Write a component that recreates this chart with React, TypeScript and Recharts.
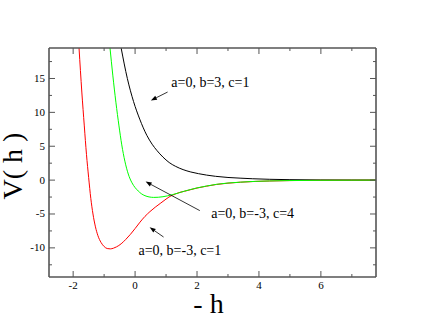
import React from 'react';
import { ComposedChart, Line, XAxis, YAxis, ReferenceLine, ReferenceDot, Label } from 'recharts';

// ---- data ----
const blackH = [-0.45, -0.25, -0.05, 0.15, 0.38, 0.55, 0.7, 0.9, 1.1, 1.3, 1.55, 1.8, 2.05, 2.31, 2.6, 3.0, 3.39, 3.8, 4.35, 5.0, 6.0, 7.0, 7.78];
const blackV = [19.5, 15.0, 11.6, 9.0, 6.6, 5.3, 4.4, 3.4, 2.6, 2.05, 1.55, 1.2, 0.95, 0.74, 0.56, 0.39, 0.29, 0.2, 0.12, 0.067, 0.027, 0.011, 0.005];

const greenH = [-0.81, -0.72, -0.62, -0.52, -0.43, -0.33, -0.22, -0.1, 0, 0.1, 0.2, 0.32, 0.45, 0.6, 0.75, 0.9, 1.05, 1.2, 1.4, 1.6, 1.8, 2.0, 2.3, 2.63, 3.0, 3.4, 3.9, 4.35, 5.0, 6.0, 7.0, 7.78];
const greenV = [19.5, 15.5, 11.5, 8.0, 5.2, 2.8, 0.9, -0.4, -1.1, -1.6, -2.0, -2.3, -2.48, -2.55, -2.53, -2.45, -2.32, -2.15, -1.9, -1.62, -1.38, -1.15, -0.88, -0.62, -0.43, -0.3, -0.18, -0.12, -0.065, -0.025, -0.01, 0];

const redH = [-1.81, -1.72, -1.64, -1.57, -1.5, -1.43, -1.36, -1.28, -1.2, -1.1, -1.0, -0.9, -0.8, -0.7, -0.6, -0.45, -0.3, -0.15, 0, 0.16, 0.32, 0.48, 0.65, 0.81, 1.0, 1.13, 1.3, 1.45, 1.6, 1.8, 2.0, 2.3, 2.63, 3.0, 3.4, 3.9, 4.35, 5.0, 6.0, 7.0, 7.78];
const redV = [19.5, 13.0, 8.0, 3.8, 0.4, -2.7, -5.0, -6.9, -8.2, -9.2, -9.8, -10.1, -10.15, -10.05, -9.85, -9.4, -8.75, -8.0, -7.15, -6.2, -5.35, -4.65, -4.0, -3.45, -2.8, -2.4, -2.05, -1.8, -1.64, -1.4, -1.17, -0.9, -0.64, -0.45, -0.31, -0.19, -0.13, -0.07, -0.027, -0.01, 0];

const xTicks = [-2, -1, 0, 1, 2, 3, 4, 5, 6, 7];
const xTickLabels = [-2, 0, 2, 4, 6];
const yTicks = [-12.5, -10, -7.5, -5, -2.5, 0, 2.5, 5, 7.5, 10, 12.5, 15, 17.5];
const yTickLabels = [-10, -5, 0, 5, 10, 15];

const annotations = [
  { text: 'a=0, b=3, c=1', lx: 1.17, ly: 13.78, from: { x: 1.05, y: 13.0 }, to: { x: 0.51, y: 11.76 } },
  { text: 'a=0, b=-3, c=4', lx: 2.46, ly: -5.53, from: { x: 2.09, y: -4.5 }, to: { x: 0.34, y: -0.22 } },
  { text: 'a=0, b=-3, c=1', lx: 0.11, ly: -10.98, from: { x: 0.92, y: -8.4 }, to: { x: 0.47, y: -6.97 } },
];

const toPoints = (h: number[], v: number[]) => h.map((x, i) => ({ h: x, v: v[i] }));
const blackData = toPoints(blackH, blackV);
const greenData = toPoints(greenH, greenV);
const redData = toPoints(redH, redV);

const FRAME = '#555';
const FONT = '"Liberation Serif", "Times New Roman", serif';

function BottomTick(props: any) {
  const { x, y, payload } = props;
  const major = xTickLabels.includes(payload.value);
  return (
    <g>
      <line x1={x} x2={x} y1={y} y2={y - (major ? 6 : 3)} stroke={FRAME} strokeWidth={1} />
      {major && (
        <text x={x} y={y + 12} textAnchor="middle" fontSize={11} fontFamily={FONT} fill="#000">
          {String(payload.value)}
        </text>
      )}
    </g>
  );
}
function TopTick(props: any) {
  const { x, y, payload } = props;
  const major = xTickLabels.includes(payload.value);
  return <line x1={x} x2={x} y1={y} y2={y + (major ? 6 : 3)} stroke={FRAME} strokeWidth={1} />;
}
function LeftTick(props: any) {
  const { x, y, payload } = props;
  const major = yTickLabels.includes(payload.value);
  return (
    <g>
      <line x1={x} x2={x + (major ? 6 : 3)} y1={y} y2={y} stroke={FRAME} strokeWidth={1} />
      {major && (
        <text x={x - 4} y={y + 3.5} textAnchor="end" fontSize={11} fontFamily={FONT} fill="#000">
          {String(payload.value)}
        </text>
      )}
    </g>
  );
}
function RightTick(props: any) {
  const { x, y, payload } = props;
  const major = yTickLabels.includes(payload.value);
  return <line x1={x} x2={x - (major ? 6 : 3)} y1={y} y2={y} stroke={FRAME} strokeWidth={1} />;
}

function Arrow(props: any) {
  const { x1, y1, x2, y2 } = props;
  const dx = x2 - x1;
  const dy = y2 - y1;
  const len = Math.hypot(dx, dy) || 1;
  const ux = dx / len;
  const uy = dy / len;
  const L = 6;
  const W = 2.2;
  const bx = x2 - ux * L;
  const by = y2 - uy * L;
  const pts = `${x2},${y2} ${bx - uy * W},${by + ux * W} ${bx + uy * W},${by - ux * W}`;
  return (
    <g>
      <line x1={x1} y1={y1} x2={bx} y2={by} stroke="#000" strokeWidth={0.8} />
      <polygon points={pts} fill="#000" />
    </g>
  );
}

const makeTextShape = (t: string) => (p: any) => (
  <text x={p.cx} y={p.cy} fontSize={14} fontFamily={FONT} fill="#000">
    {t}
  </text>
);

export default function App() {
  return (
    <div style={{ position: 'absolute', left: 0, top: 0 }}>
      <ComposedChart width={423} height={327} margin={{ top: 18, right: 17, bottom: 20, left: 0 }}>
        <XAxis
          xAxisId="b"
          type="number"
          dataKey="h"
          domain={[-2.78, 7.78]}
          allowDataOverflow
          ticks={xTicks}
          interval={0}
          tick={<BottomTick />}
          tickLine={false}
          tickSize={0}
          tickMargin={0}
          height={30}
          axisLine={{ stroke: FRAME, strokeWidth: 1.6 }}
        >
          <Label
            content={(p: any) => {
              const vb = p.viewBox || { x: 49, y: 277, width: 327 };
              return (
                <text x={vb.x + vb.width / 2 - 4} y={vb.y + 36} textAnchor="middle" fontSize={28} fontFamily={FONT} fill="#000">
                  - h
                </text>
              );
            }}
          />
        </XAxis>
        <XAxis
          xAxisId="t"
          orientation="top"
          type="number"
          dataKey="h"
          domain={[-2.78, 7.78]}
          allowDataOverflow
          ticks={xTicks}
          interval={0}
          tick={<TopTick />}
          tickLine={false}
          tickSize={0}
          tickMargin={0}
          height={30}
          axisLine={{ stroke: FRAME, strokeWidth: 1.6 }}
        />
        <YAxis
          yAxisId="l"
          type="number"
          domain={[-14.3, 19.5]}
          allowDataOverflow
          ticks={yTicks}
          interval={0}
          tick={<LeftTick />}
          tickLine={false}
          tickSize={0}
          tickMargin={0}
          width={49}
          axisLine={{ stroke: FRAME, strokeWidth: 1.6 }}
        >
          <Label
            content={(p: any) => {
              const vb = p.viewBox || { x: 0, y: 48, width: 49, height: 229 };
              const cx = vb.x + 22;
              const cy = vb.y + vb.height / 2 + 3.5;
              return (
                <text
                  x={cx}
                  y={cy}
                  transform={`rotate(-90 ${cx} ${cy})`}
                  textAnchor="middle"
                  fontSize={28}
                  fontFamily={FONT}
                  fill="#000"
                >
                  V( h )
                </text>
              );
            }}
          />
        </YAxis>
        <YAxis
          yAxisId="r"
          orientation="right"
          type="number"
          domain={[-14.3, 19.5]}
          allowDataOverflow
          ticks={yTicks}
          interval={0}
          tick={<RightTick />}
          tickLine={false}
          tickSize={0}
          tickMargin={0}
          width={30}
          axisLine={{ stroke: FRAME, strokeWidth: 1.6 }}
        />
        <Line data={blackData} dataKey="v" xAxisId="b" yAxisId="l" type="monotone" stroke="#000000" strokeWidth={1} dot={false} isAnimationActive={false} />
        <Line data={redData} dataKey="v" xAxisId="b" yAxisId="l" type="monotone" stroke="#ff0000" strokeWidth={1} dot={false} isAnimationActive={false} />
        <Line data={greenData} dataKey="v" xAxisId="b" yAxisId="l" type="monotone" stroke="#00ff00" strokeWidth={1} dot={false} isAnimationActive={false} />
        {annotations.map((a, i) => (
          <ReferenceLine key={'l' + i} xAxisId="b" yAxisId="l" segment={[a.from, a.to]} shape={Arrow} ifOverflow="visible" />
        ))}
        {annotations.map((a, i) => (
          <ReferenceDot key={'d' + i} xAxisId="b" yAxisId="l" x={a.lx} y={a.ly} r={0} shape={makeTextShape(a.text)} ifOverflow="visible" />
        ))}
      </ComposedChart>
    </div>
  );
}
